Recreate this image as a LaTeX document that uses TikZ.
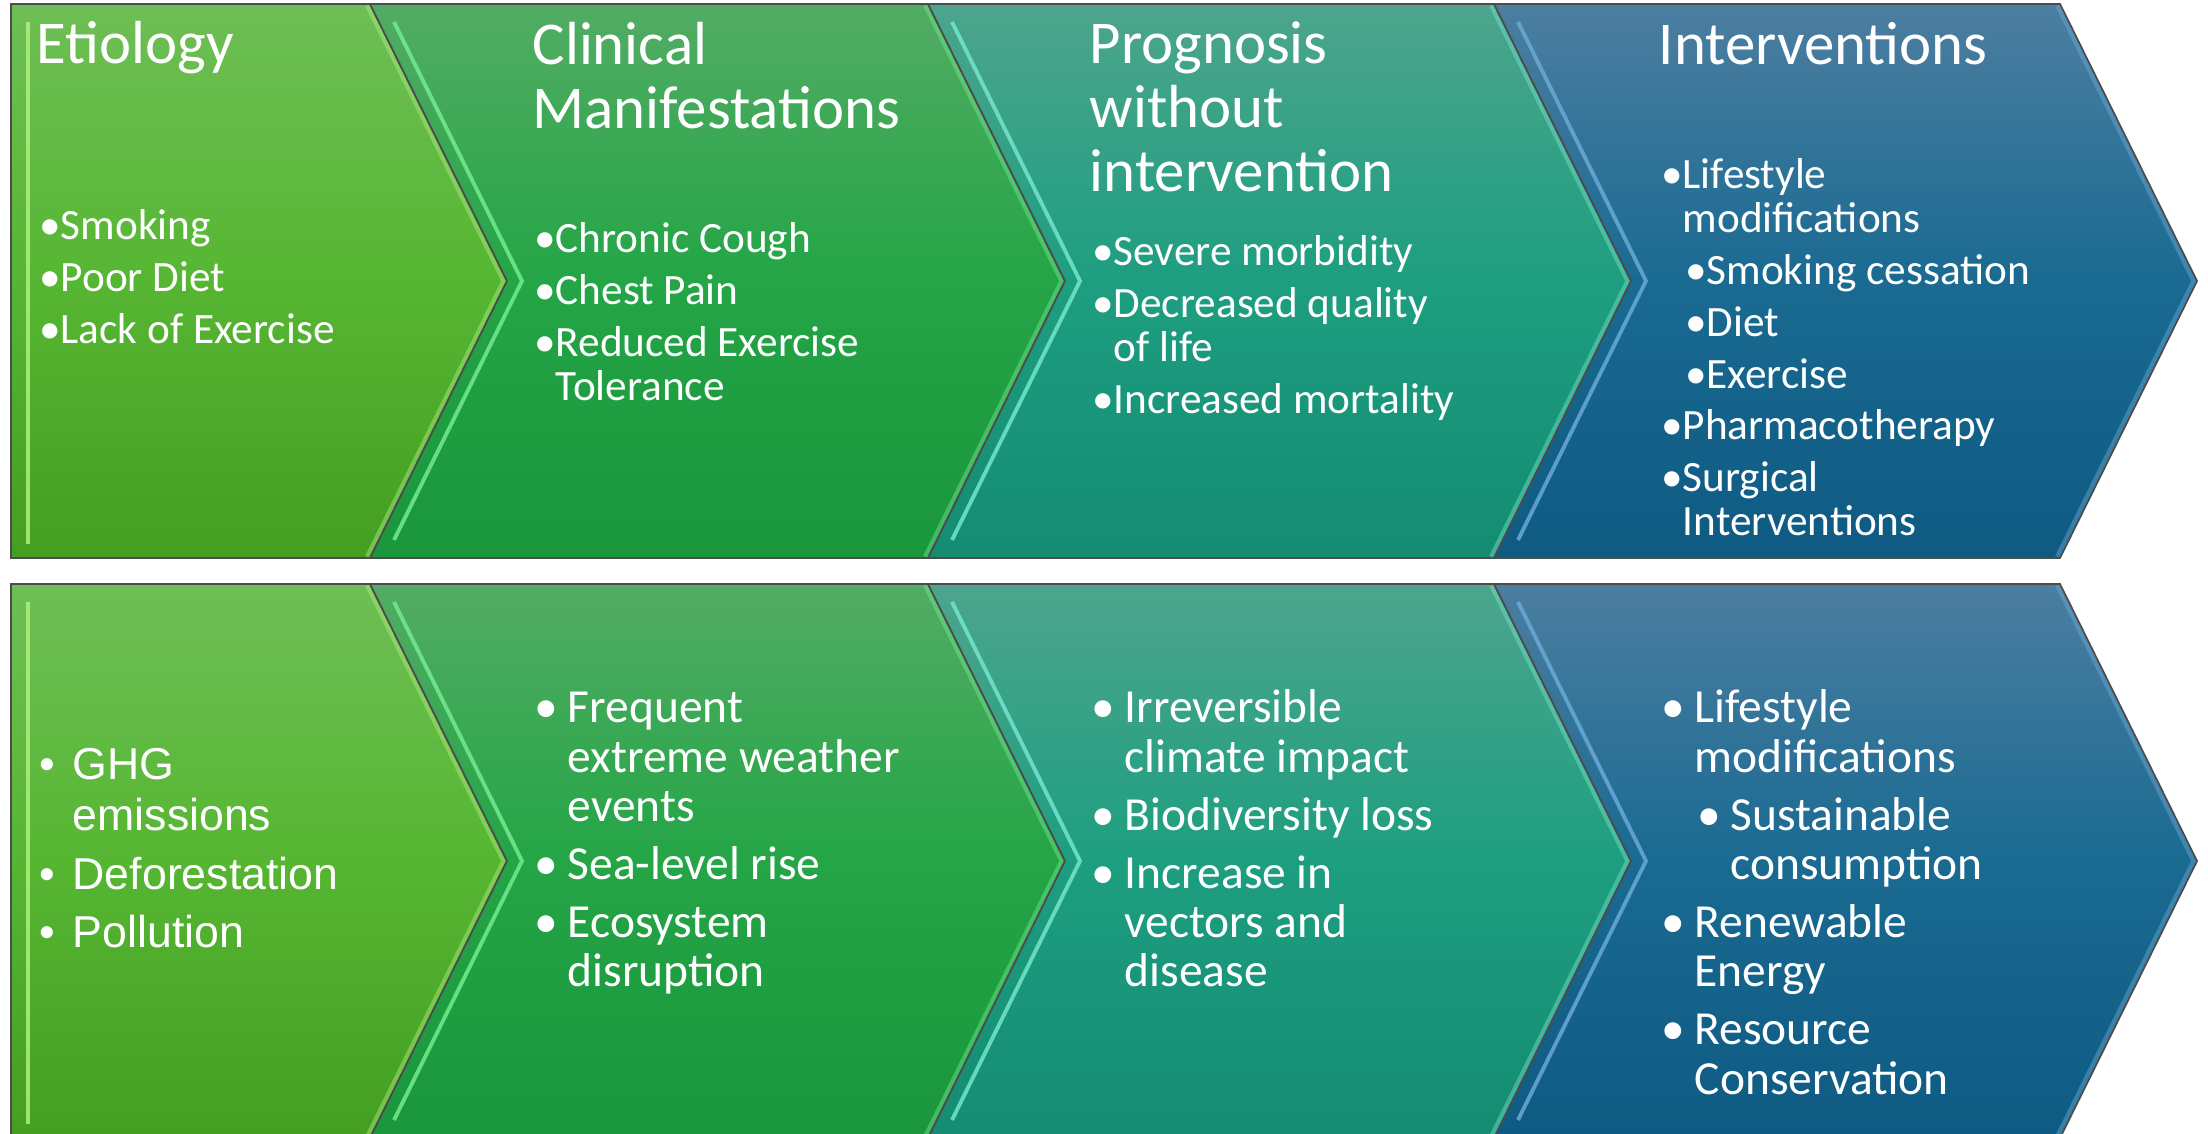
\documentclass[tikz,border=0pt]{standalone}
\usepackage{fontspec}
\setmainfont{Carlito}
\newfontfamily\arialfont{Liberation Sans}
\definecolor{cAtop}{RGB}{110,190,85}
\definecolor{cAmid}{RGB}{86,182,50}
\definecolor{cAbot}{RGB}{68,158,34}
\definecolor{cAhl}{RGB}{175,240,125}
\definecolor{cBtop}{RGB}{82,172,100}
\definecolor{cBmid}{RGB}{36,165,70}
\definecolor{cBbot}{RGB}{26,150,60}
\definecolor{cBhl}{RGB}{115,235,145}
\definecolor{cCtop}{RGB}{76,165,140}
\definecolor{cCmid}{RGB}{30,158,128}
\definecolor{cCbot}{RGB}{20,140,114}
\definecolor{cChl}{RGB}{115,230,205}
\definecolor{cDtop}{RGB}{76,126,160}
\definecolor{cDmid}{RGB}{26,106,146}
\definecolor{cDbot}{RGB}{14,90,130}
\definecolor{cDhl}{RGB}{105,170,215}

\newlength{\bgap}
\newlength{\subin}
\newcommand{\ttlfont}{\fontsize{17.3}{18.2}\selectfont}
\newcommand{\topfont}{\fontsize{12.3}{12.5}\selectfont\setlength{\parskip}{2.2pt}\setlength{\bgap}{6pt}\setlength{\subin}{6.8pt}}
\newcommand{\botfont}{\fontsize{13.5}{14}\selectfont\setlength{\parskip}{2.5pt}\setlength{\bgap}{9.4pt}\setlength{\subin}{10.2pt}}
\newcommand{\arialbody}{\arialfont\fontsize{12.7}{14.5}\selectfont\setlength{\parskip}{2pt}\setlength{\bgap}{9.4pt}}
\newcommand{\bul}[1]{\par\noindent\hangindent=\bgap\hangafter=1\makebox[\bgap][l]{\textbullet}#1}
\newcommand{\subbul}[1]{\par\noindent\hangindent=\dimexpr\subin+\bgap\relax\hangafter=1\hspace*{\subin}\makebox[\bgap][l]{\textbullet}#1}
% text block: first baseline is the block's baseline
\newcommand{\blk}[2]{\begin{minipage}[t]{#1}#2\par\end{minipage}}

% first chevron: flat left side (right edge, top, bottom, colour prefix)
\newcommand{\chevstart}[4]{%
  \pgfmathsetmacro{\cm}{(#2+#3)/2}
  \shade[top color=#4top, bottom color=#4bot, middle color=#4mid]
    (11,#2) -- (#1,#2) -- ({#1+137},\cm) -- (#1,#3) -- (11,#3) -- cycle;
  \begin{scope}
    \clip (11,#2) -- (#1,#2) -- ({#1+137},\cm) -- (#1,#3) -- (11,#3) -- cycle;
    \draw[#4hl, line width=1.1pt, opacity=0.85] (28,{#2+18}) -- (28,{#3-14});
    \draw[#4hl, opacity=0.45, line width=3pt] (#1,#2) -- ({#1+137},\cm) -- (#1,#3);
  \end{scope}
  \draw[chevline] (11,#2) -- (#1,#2) -- ({#1+137},\cm) -- (#1,#3) -- (11,#3) -- cycle;
}
% other chevrons: notched left side (left, right, top, bottom, colour prefix)
\newcommand{\chevmid}[5]{%
  \pgfmathsetmacro{\cm}{(#3+#4)/2}
  \shade[top color=#5top, bottom color=#5bot, middle color=#5mid]
    (#1,#3) -- (#2,#3) -- ({#2+137},\cm) -- (#2,#4) -- (#1,#4) -- ({#1+137},\cm) -- cycle;
  \begin{scope}
    \clip (#1,#3) -- (#2,#3) -- ({#2+137},\cm) -- (#2,#4) -- (#1,#4) -- ({#1+137},\cm) -- cycle;
    \draw[#5hl, line width=1.1pt, opacity=0.85] ({#1+24},{#3+18}) -- ({#1+15+137},\cm) -- ({#1+24},{#4-18});
    \draw[#5hl, opacity=0.45, line width=3pt] (#2,#3) -- ({#2+137},\cm) -- (#2,#4);
  \end{scope}
  \draw[chevline] (#1,#3) -- (#2,#3) -- ({#2+137},\cm) -- (#2,#4) -- (#1,#4) -- ({#1+137},\cm) -- cycle;
}

\tikzset{
  chevline/.style={draw=black!70, line width=0.5pt},
  txt/.style={anchor=base west, inner sep=0pt, text=white}
}

\begin{document}
\begin{tikzpicture}[x=0.01cm, y=-0.01cm]
\useasboundingbox (0,0) rectangle (2208,1134);
\clip (0,0) rectangle (2208,1134);

% Top row
\begin{scope}
    % Chevrons.
    \chevstart{370}{4}{558}{cA}
    \chevmid{370}{928}{4}{558}{cB}
    \chevmid{928}{1494}{4}{558}{cC}
    \chevmid{1494}{2060}{4}{558}{cD}
    % Titles.
    \node[txt] (etioT) at (36,64) {\blk{5cm}{\ttlfont Etiology}};
    \node[txt] (clinT) at (532,65) {\blk{5cm}{\ttlfont Clinical\\Manifestations}};
    \node[txt] (progT) at (1089,64) {\blk{5cm}{\ttlfont Prognosis\\without\\intervention}};
    \node[txt] (intT) at (1658,65) {\blk{5cm}{\ttlfont Interventions}};
    % Lists.
    \node[txt] (etioL) at (39,240) {\blk{5cm}{\topfont
        \bul{Smoking}
        \bul{Poor Diet}
        \bul{Lack of Exercise}}};
    \node[txt] (clinL) at (534,253) {\blk{5cm}{\topfont
        \bul{Chronic Cough}
        \bul{Chest Pain}
        \bul{Reduced Exercise\\Tolerance}}};
    \node[txt] (progL) at (1092,266) {\blk{5cm}{\topfont
        \bul{Severe morbidity}
        \bul{Decreased quality\\of life}
        \bul{Increased mortality}}};
    \node[txt] (intL) at (1661,189) {\blk{5cm}{\topfont
        \bul{Lifestyle\\modifications}
        \subbul{Smoking cessation}
        \subbul{Diet}
        \subbul{Exercise}
        \bul{Pharmacotherapy}
        \bul{Surgical\\Interventions}}};
\end{scope}

% Bottom row
\begin{scope}
    % Chevrons.
    \chevstart{370}{584}{1138}{cA}
    \chevmid{370}{928}{584}{1138}{cB}
    \chevmid{928}{1494}{584}{1138}{cC}
    \chevmid{1494}{2060}{584}{1138}{cD}
    % Lists.
    \node[txt] (causeL) at (39,780) {\blk{5cm}{\arialbody
        \bul{GHG\\emissions}
        \bul{Deforestation}
        \bul{Pollution}}};
    \node[txt] (effectL) at (534,723) {\blk{5cm}{\botfont
        \bul{Frequent\\extreme weather\\events}
        \bul{Sea-level rise}
        \bul{Ecosystem\\disruption}}};
    \node[txt] (riskL) at (1091,723) {\blk{5cm}{\botfont
        \bul{Irreversible\\climate impact}
        \bul{Biodiversity loss}
        \bul{Increase in\\vectors and\\disease}}};
    \node[txt] (actL) at (1661,723) {\blk{5cm}{\botfont
        \bul{Lifestyle\\modifications}
        \subbul{Sustainable\\consumption}
        \bul{Renewable\\Energy}
        \bul{Resource\\Conservation}}};
\end{scope}

\end{tikzpicture}
\end{document}
